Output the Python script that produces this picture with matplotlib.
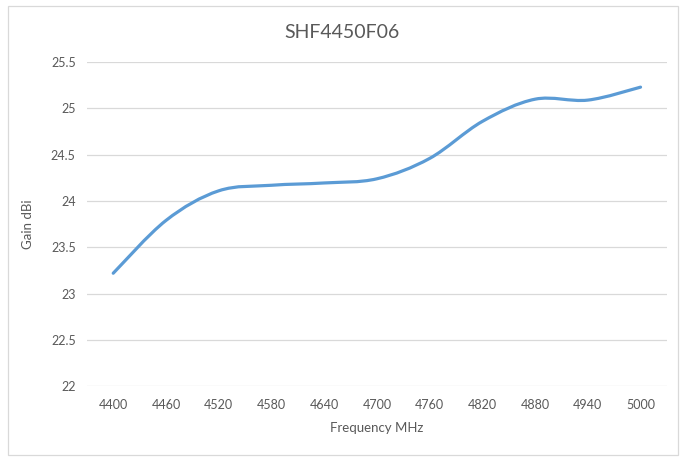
import matplotlib
matplotlib.use("Agg")
import matplotlib.pyplot as plt
from matplotlib.path import Path
from matplotlib.patches import PathPatch, Rectangle
import numpy

# data
freq_labels = ["4400", "4460", "4520", "4580", "4640", "4700",
               "4760", "4820", "4880", "4940", "5000"]
gain = [23.22, 23.79, 24.11, 24.17, 24.195, 24.24,
        24.46, 24.86, 25.10, 25.09, 25.23]
yticks = [22, 22.5, 23, 23.5, 24, 24.5, 25, 25.5]
ytick_labels = ["22", "22.5", "23", "23.5", "24", "24.5", "25", "25.5"]

plt.rcParams['font.family'] = ['Lato', 'DejaVu Sans']
grey = "#595959"

fig = plt.figure(figsize=(6.84, 4.57), dpi=100)
fig.patches.append(Rectangle((0.011, 0.004), 0.98, 0.983, transform=fig.transFigure,
                             fill=False, edgecolor="#D9D9D9", linewidth=0.9))
ax = fig.add_axes([0.127, 0.155, 0.848, 0.709])

# smoothed line like excel (cubic bezier through the points)
x = numpy.arange(len(gain))
pts = numpy.column_stack([x, gain])
verts = [pts[0]]
codes = [Path.MOVETO]
for i in range(len(pts) - 1):
    p0 = pts[i - 1] if i > 0 else pts[i]
    p1 = pts[i]
    p2 = pts[i + 1]
    p3 = pts[i + 2] if i + 2 < len(pts) else pts[i + 1]
    c1 = p1 + (p2 - p0) / 6
    c2 = p2 - (p3 - p1) / 6
    verts += [c1, c2, p2]
    codes += [Path.CURVE4] * 3
ax.add_patch(PathPatch(Path(verts, codes), fill=False, edgecolor="#5B9BD5",
                       linewidth=2.3, capstyle="round", joinstyle="round"))

ax.set_xlim(-0.5, len(gain) - 0.5)
ax.set_ylim(22, 25.5)
ax.set_xticks(x)
ax.set_xticklabels(freq_labels)
ax.set_yticks(yticks)
ax.set_yticklabels(ytick_labels)
ax.tick_params(length=0, labelsize=9, colors=grey, pad=8)
ax.tick_params(axis="x", pad=9)
ax.grid(axis="y", color="#D9D9D9", linewidth=0.9)
ax.set_axisbelow(True)
for s in ax.spines.values():
    s.set_visible(False)

fig.text(0.5, 0.928, "SHF4450F06", fontsize=14, color=grey, ha="center", va="center")
ax.set_xlabel("Frequency MHz", fontsize=9.5, color=grey, labelpad=8)
ax.set_ylabel("Gain dBi", fontsize=9.5, color=grey, labelpad=12)

fig.savefig("out.png", dpi=100)
